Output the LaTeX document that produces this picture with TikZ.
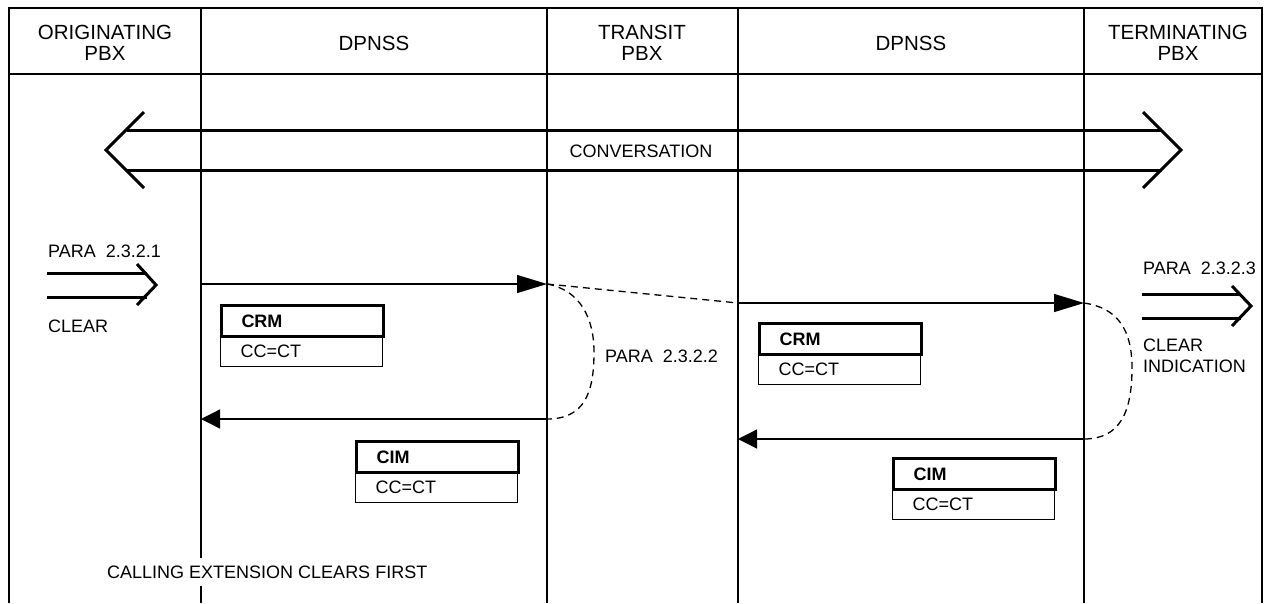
\documentclass[tikz,border=0pt]{standalone}
\usepackage{fontspec}
\setmainfont{Liberation Sans}
\usetikzlibrary{arrows.meta}
\begin{document}
\begin{tikzpicture}[x=1pt,y=-1pt,
  frame/.style={line width=2.2pt},
  msg/.style={line width=1.3pt},
  rhead/.style={-{Triangle[length=30pt,width=18pt]}},
  lhead/.style={-{Triangle[length=19pt,width=19pt]}},
  dashmsg/.style={line width=1.3pt,dash pattern=on 7pt off 5pt},
  big/.style={line width=3pt},
  lbl/.style={font=\fontsize{18}{21}\selectfont,inner sep=0pt},
  hdr/.style={font=\fontsize{20.5}{21}\selectfont,align=center,inner sep=0pt},
  boxtop/.style={draw,line width=3pt,anchor=north west,minimum height=31pt,text width=122pt,inner xsep=20pt,inner ysep=0pt,align=left,font=\fontsize{18}{21}\selectfont\bfseries},
  boxbot/.style={draw,line width=1.3pt,anchor=north west,minimum height=31pt,text width=122pt,inner xsep=20pt,inner ysep=0pt,align=left,font=\fontsize{18}{21}\selectfont}
]
\useasboundingbox (0,0) rectangle (1266,603);

% frame and lifelines
\coordinate (fl) at (9,8);
\coordinate (fr) at (1262,8);
\draw[frame] (9,603) -- (fl) -- (fr) -- (1262,603);
\draw[frame] (9,74) -- (1262,74);
\foreach \x/\n in {201/a,547/b,738/c,1084/d}{
  \coordinate (top\n) at (\x,8);
  \coordinate (bot\n) at (\x,603);
  \draw[frame] (top\n) -- (bot\n);
}

% headers
\node[hdr] (h1) at (105,43) {ORIGINATING\\PBX};
\node[hdr] (h2) at (374,43) {DPNSS};
\node[hdr] (h3) at (642,43) {TRANSIT\\PBX};
\node[hdr] (h4) at (911,43) {DPNSS};
\node[hdr] (h5) at (1178,43) {TERMINATING\\PBX};

% conversation
\coordinate (cl1) at (127,130);
\coordinate (cr1) at (1162,130);
\coordinate (cl2) at (127,170);
\coordinate (cr2) at (1162,170);
\draw[big] (cl1) -- (cr1);
\draw[big] (cl2) -- (cr2);
\draw[big,line join=miter] (144,112) -- (106,150) -- (144,188);
\draw[big,line join=miter] (1143,112) -- (1181,150) -- (1143,188);
\node[lbl,fill=white,inner xsep=4pt] (conv) at (641,151) {CONVERSATION};

% left double arrow
\node[lbl,anchor=west] (p1) at (48,251) {PARA\ \ 2.3.2.1};
\coordinate (d1a) at (47,273);
\coordinate (d1b) at (47,297);
\draw[big] (d1a) -- (147,273);
\draw[big] (d1b) -- (147,297);
\draw[big,line join=miter] (137,264) -- (156,285) -- (137,305);
\node[lbl,anchor=west] (c1) at (48,326) {CLEAR};

% right double arrow
\node[lbl,anchor=west] (p3) at (1143,268) {PARA\ \ 2.3.2.3};
\coordinate (d3a) at (1142,294);
\coordinate (d3b) at (1142,318);
\draw[big] (d3a) -- (1241,294);
\draw[big] (d3b) -- (1241,318);
\draw[big,line join=miter] (1232,286) -- (1251,306) -- (1232,326);
\node[lbl,anchor=west,align=left] (c3) at (1143,356) {CLEAR\\INDICATION};

% messages
\coordinate (m1s) at (201,284);
\coordinate (m1e) at (547,284);
\coordinate (m2s) at (738,303);
\coordinate (m2e) at (1084,303);
\coordinate (m3s) at (547,419);
\coordinate (m3e) at (201,419);
\coordinate (m4s) at (1084,439);
\coordinate (m4e) at (738,439);
\draw[msg,rhead] (m1s) -- (m1e);
\draw[dashmsg] (m1e) -- (m2s);
\draw[msg,rhead] (m2s) -- (m2e);
\draw[dashmsg] (m1e) .. controls (580,290) and (594,318) .. (594,352)
  .. controls (594,392) and (585,419) .. (m3s);
\draw[msg,lhead] (m3s) -- (m3e);
\draw[dashmsg] (m2e) .. controls (1118,308) and (1132,330) .. (1132,368)
  .. controls (1132,412) and (1120,439) .. (m4s);
\draw[msg,lhead] (m4s) -- (m4e);
\node[lbl,anchor=west] (p2) at (605,356) {PARA\ \ 2.3.2.2};

% message boxes
\node[boxbot] (crm1b) at (220,335) {CC=CT};
\node[boxtop] (crm1) at (220,304) {CRM};
\node[boxbot] (crm2b) at (758,353) {CC=CT};
\node[boxtop] (crm2) at (758,322) {CRM};
\node[boxbot] (cim1b) at (355,471) {CC=CT};
\node[boxtop] (cim1) at (355,440) {CIM};
\node[boxbot] (cim2b) at (892,488) {CC=CT};
\node[boxtop] (cim2) at (892,457) {CIM};

% bottom caption
\node[lbl,fill=white,anchor=west,minimum height=28pt,inner xsep=3pt] (cap) at (104,572) {CALLING EXTENSION CLEARS FIRST};
\end{tikzpicture}
\end{document}
